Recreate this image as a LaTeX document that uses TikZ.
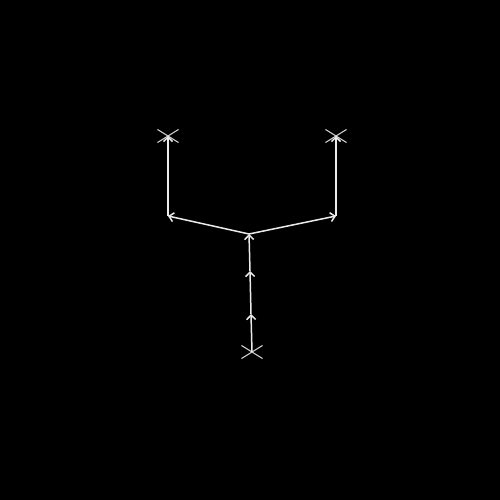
\documentclass[tikz,border=0pt]{standalone}
\usetikzlibrary{arrows.meta,shapes.misc}
\begin{document}
\begin{tikzpicture}[x=1pt,y=-1pt,
  wire/.style={draw=white!92!black,line width=1.5pt,-{Straight Barb[length=4.5pt,width=9pt]}},
  xmark/.style={cross out,draw=white!80!black,line width=1.1pt,minimum width=20pt,minimum height=12pt,inner sep=0pt}]
\fill[black] (0,0) rectangle (500,500);
\useasboundingbox (0,0) rectangle (500,500);
\node[xmark] (b) at (252,352) {};
\node[xmark] (tl) at (168,136) {};
\node[xmark] (tr) at (336,136) {};
\coordinate (bc) at (252,352);
\coordinate (m1) at (251,314);
\coordinate (m2) at (250,271);
\coordinate (j) at (249,234);
\coordinate (l) at (168,216);
\coordinate (r) at (336,216);
\coordinate (tlc) at (168,136);
\coordinate (trc) at (336,136);
\draw[wire] (bc) -- (m1);
\draw[wire] (m1) -- (m2);
\draw[wire] (m2) -- (j);
\draw[wire] (j) -- (l);
\draw[wire] (j) -- (r);
\draw[wire] (l) -- (tlc);
\draw[wire] (r) -- (trc);
\end{tikzpicture}
\end{document}
